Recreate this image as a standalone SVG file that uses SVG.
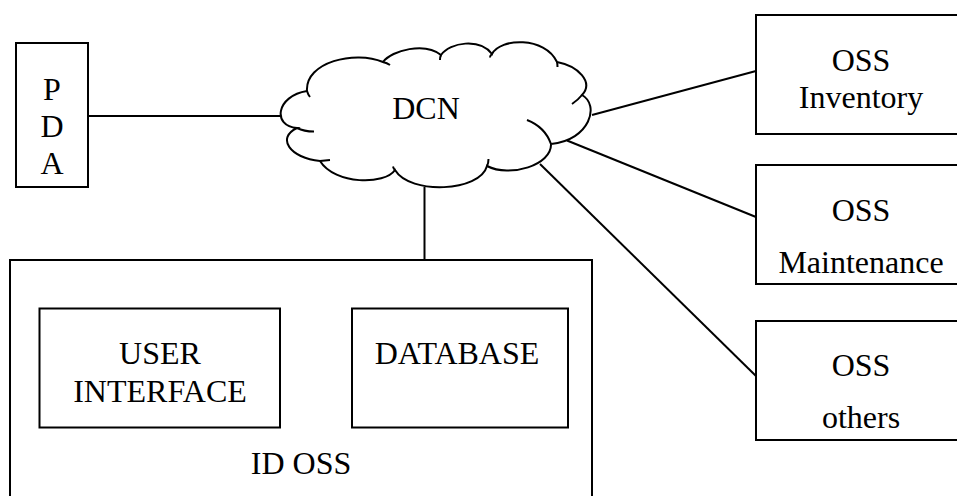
<svg xmlns="http://www.w3.org/2000/svg" width="957" height="496" viewBox="0 0 957 496">
<style>
.box{fill:#fff;stroke:#000;stroke-width:2}
.ln{fill:none;stroke:#000;stroke-width:2}
.t{font-family:"Liberation Serif","Times New Roman",serif;font-size:32px;fill:#000;text-anchor:middle}
</style>
<rect width="957" height="496" fill="#fff"/>
<g id="connectors">
<line class="ln" x1="88" y1="116" x2="280" y2="116"/>
<line class="ln" x1="424.5" y1="187" x2="424.5" y2="260"/>
<line class="ln" x1="592" y1="115" x2="756" y2="71"/>
<line class="ln" x1="567" y1="140.5" x2="756" y2="217"/>
<line class="ln" x1="540" y1="164" x2="756" y2="376"/>
</g>
<g id="dcn">
<path class="ln" fill="#fff" style="fill:#fff" d="M307,91 C305,62 355,50 383,62 C392,50 425,42 441,55 C450,42 480,38 492,54 C500,38 545,36 557,62 C578,66 594,82 582,95 C600,105 590,140 551,144 C552,165 510,178 487,166 C480,192 410,195 395,170 C385,185 335,185 320,161 C290,158 276,138 297,128 C272,126 276,96 307,91 Z"/>
<path class="ln" d="M297,128 Q304,131.5 314,131.5 M320,161 Q325,160.5 330,160 M395,170 Q393.5,168.5 393,166.5 M487,166 Q488.5,163 488.5,159 M551,144 Q545,127 527,120 M582,95 Q578,100 572,104 M557,62 Q557.5,64 557.5,67 M492,54 Q490,55.5 490,57.5 M441,55 Q440,57 440,60 M383,62 Q387,63 390,65 M307,91 Q308,94.5 310,97"/>
<text class="t" x="426" y="119">DCN</text>
</g>
<g id="pda">
<rect class="box" x="16" y="43" width="72" height="144"/>
<text class="t" x="52" y="100">P</text>
<text class="t" x="52" y="137">D</text>
<text class="t" x="52" y="174">A</text>
</g>
<g id="oss-inventory">
<rect class="box" x="756" y="15" width="212" height="119"/>
<text class="t" x="861" y="71">OSS</text>
<text class="t" x="861" y="108">Inventory</text>
</g>
<g id="oss-maintenance">
<rect class="box" x="756" y="165" width="212" height="119"/>
<text class="t" x="861" y="221">OSS</text>
<text class="t" x="861" y="273">Maintenance</text>
</g>
<g id="oss-others">
<rect class="box" x="756" y="321" width="212" height="119"/>
<text class="t" x="861" y="376">OSS</text>
<text class="t" x="861" y="428">others</text>
</g>
<g id="id-oss">
<rect class="box" x="10" y="260" width="582" height="250"/>
<text class="t" x="301" y="474">ID OSS</text>
</g>
<g id="user-interface">
<rect class="box" x="39.5" y="308.5" width="240.5" height="119"/>
<text class="t" x="160" y="364">USER</text>
<text class="t" x="160" y="402">INTERFACE</text>
</g>
<g id="database">
<rect class="box" x="352" y="308.5" width="216" height="119"/>
<text class="t" x="457" y="364">DATABASE</text>
</g>
</svg>
